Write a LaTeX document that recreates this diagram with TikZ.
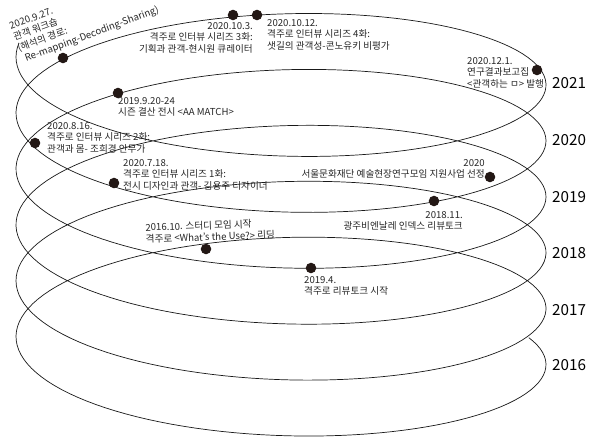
\documentclass[tikz,border=0pt]{standalone}
\usepackage{fontspec}
\setmainfont{Noto Sans CJK KR}
\usepackage{tikz}
\definecolor{dotbrown}{HTML}{231815}
\tikzstyle{helix}=[line width=0.6pt, black!90]
\tikzstyle{evdot}=[circle, fill=dotbrown, inner sep=0pt, minimum size=9pt]
\tikzstyle{event}=[inner sep=0pt, font=\fontsize{8.2}{10}\selectfont, text=black!85]
\tikzstyle{eventl}=[event, align=left, anchor=north west]
\tikzstyle{eventr}=[event, align=right, anchor=north east]
\tikzstyle{year}=[inner sep=0pt, anchor=west, font=\fontsize{13}{13}\selectfont]

\begin{document}
\begin{tikzpicture}[x=0.03cm, y=-0.03cm]
        \useasboundingbox (0, 0) rectangle (600, 445);
        % the spiral, one turn per year
        \draw[helix] plot[domain=-0.15:34.92, samples=700]
            ({281-265*cos(\x r)}, {57+8.9*\x+85*sin(\x r)});
        % events
        \node[evdot] (d0927) at (63, 58) {};
        \node[evdot] (d1003) at (233, 15) {};
        \node[evdot] (d1012) at (257, 15) {};
        \node[evdot] (d1201) at (537, 70) {};
        \node[evdot] (d0920) at (118, 93) {};
        \node[evdot] (d0816) at (35, 143) {};
        \node[evdot] (d0718) at (114, 183) {};
        \node[evdot] (dfund) at (490, 177) {};
        \node[evdot] (d1811) at (434, 201) {};
        \node[evdot] (d1610) at (206, 249) {};
        \node[evdot] (d1904) at (311, 268) {};
        \node[eventl, rotate=20] (t0927) at (8.3, 22.7)
            {2020.9.27.\\관객 워크숍\\(해석의 경로:\\\hspace{3pt}Re-mapping-Decoding-Sharing)};
        \node[eventr] (t1003) at (253, 22)
            {2020.10.3.\\격주로 인터뷰 시리즈 3화:\\기획과 관객-현시원 큐레이터};
        \node[eventl] (t1012) at (267, 19)
            {2020.10.12.\\격주로 인터뷰 시리즈 4화:\\샛길의 관객성-콘노유키 비평가};
        \node[eventl] (t1201) at (467, 57)
            {2020.12.1.\\연구결과보고집\\<관객하는 ㅁ> 발행};
        \node[eventl] (t0920) at (118, 97)
            {2019.9.20-24\\시즌 결산 전시 <AA MATCH>};
        \node[eventl] (t0816) at (47, 122)
            {2020.8.16.\\격주로 인터뷰 시리즈 2화:\\관객과 몸- 조희경 안무가};
        \node[eventl] (t0718) at (123, 159)
            {2020.7.18.\\격주로 인터뷰 시리즈 1화:\\전시 디자인과 관객- 김용주 디자이너};
        \node[eventr] (tfund) at (485, 159)
            {2020\\서울문화재단 예술현장연구모임 지원사업 선정};
        \node[eventr] (t1811) at (463, 211)
            {2018.11.\\광주비엔날레 인덱스 리뷰토크};
        \node[eventl, rotate=2] (t1610) at (145, 223)
            {2016.10. 스터디 모임 시작\\격주로 <What’s the Use?> 리딩};
        \node[eventl] (t1904) at (304, 276)
            {2019.4.\\격주로 리뷰토크 시작};
        % years
        \node[year] (y2021) at (552, 83) {2021};
        \node[year] (y2020) at (552, 140) {2020};
        \node[year] (y2019) at (552, 197) {2019};
        \node[year] (y2018) at (552, 253) {2018};
        \node[year] (y2017) at (552, 310) {2017};
        \node[year] (y2016) at (552, 365) {2016};
    \end{tikzpicture}
\end{document}
